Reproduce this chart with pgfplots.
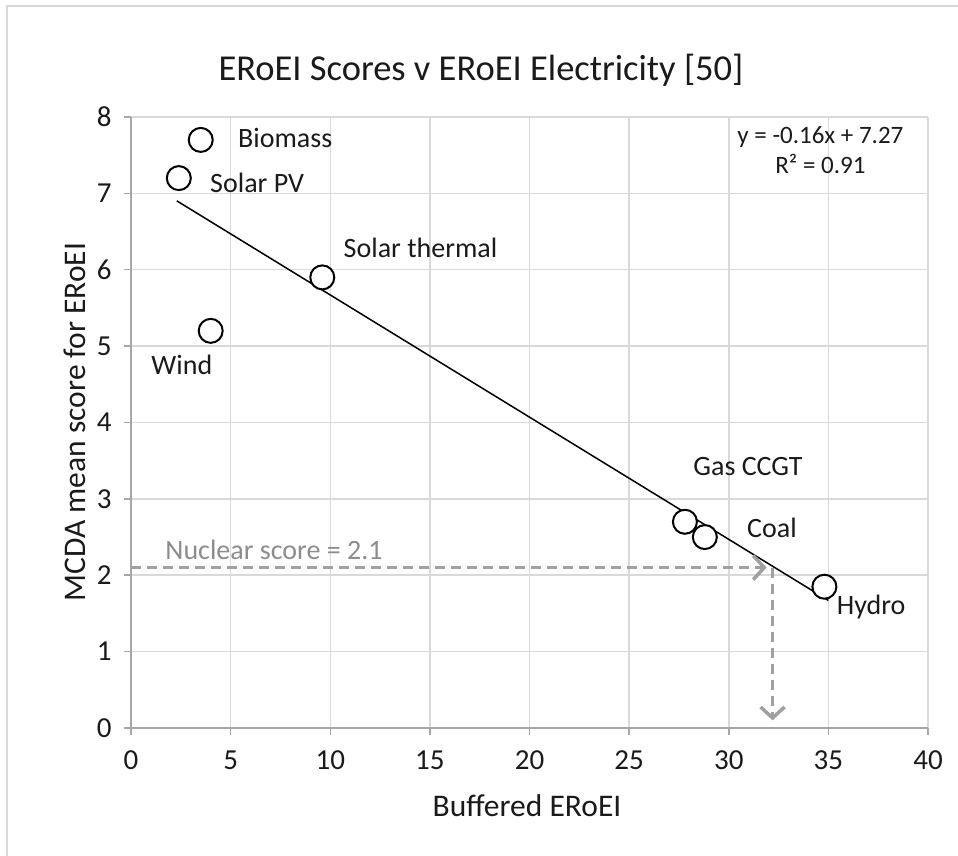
\documentclass[border=0pt]{standalone}
\usepackage{pgfplots}
\pgfplotsset{compat=1.18}
\usepackage{fontspec}
\setmainfont{Carlito}
\usetikzlibrary{arrows.meta,shadows}
\definecolor{gridc}{HTML}{D9D9D9}
\definecolor{axc}{HTML}{A6A6A6}
\definecolor{arrc}{HTML}{A0A0A0}
\definecolor{txtc}{HTML}{1A1A1A}
\definecolor{nucc}{HTML}{8C8C8C}
\begin{document}
\begin{tikzpicture}[x=1pt,y=1pt]
\path[use as bounding box] (-131,-128) rectangle (827,728);
\draw[gridc, line width=1.5pt] (-124,-128) -- (-124,722) -- (827,722);
\begin{axis}[
  at={(0,0)}, anchor=origin,
  scale only axis, width=797pt, height=611pt,
  xmin=0, xmax=40, ymin=0, ymax=8,
  xtick={0,5,...,40}, ytick={0,1,...,8},
  grid=major, major grid style={gridc, line width=1.5pt},
  axis x line*=bottom, axis y line*=left,
  axis line style={axc, line width=1.5pt, -},
  tick style={axc, line width=1.5pt},
  tick align=outside, major tick length=7pt,
  ticklabel style={font=\fontsize{29}{32}\selectfont, text=txtc},
  /pgf/number format/assume math mode=true,
  xticklabel style={yshift=-12pt},
  yticklabel style={xshift=-9pt},
  clip=false,
]
\addplot[black, line width=1.5pt] coordinates {(2.3,6.902) (35,1.67)};
\addplot[arrc, line width=2.8pt, dash pattern=on 10pt off 6pt, -{Straight Barb[length=11pt,width=24pt,line width=3.5pt]}] coordinates {(0,2.1) (31.9,2.1)};
\addplot[arrc, line width=2.8pt, dash pattern=on 10pt off 6pt, -{Straight Barb[length=11pt,width=24pt,line width=3.5pt]}] coordinates {(32.2,2.1) (32.2,0.1)};
\addplot[only marks, mark=*, mark size=12pt,
  mark options={draw=black, fill=white, line width=2pt,
  drop shadow={shadow xshift=-1.5pt, shadow yshift=-2.5pt, opacity=0.35, fill=black}}]
  coordinates {(3.5,7.7) (2.4,7.2) (9.6,5.9) (4.0,5.2) (27.8,2.7) (28.8,2.5) (34.8,1.85)};
\begin{scope}[every node/.style={font=\fontsize{28}{30}\selectfont, text=txtc, anchor=west}]
\node at (axis cs:5.2,7.72) {Biomass};
\node at (axis cs:3.8,7.14) {Solar PV};
\node at (axis cs:10.5,6.28) {Solar thermal};
\node at (axis cs:0.85,4.75) {Wind};
\node at (axis cs:28.05,3.43) {Gas CCGT};
\node at (axis cs:30.75,2.62) {Coal};
\node at (axis cs:35.25,1.58) {Hydro};
\node[text=nucc] at (axis cs:1.55,2.33) {Nuclear score = 2.1};
\end{scope}
\node[font=\fontsize{25}{30}\selectfont, text=txtc, align=center] at (axis cs:34.6,7.57) {y = -0.16x + 7.27\\R² = 0.91};
\end{axis}
\node[font=\fontsize{36.5}{40}\selectfont, text=txtc] at (350,658) {ERoEI Scores v ERoEI Electricity [50]};
\node[font=\fontsize{31.5}{34}\selectfont, text=txtc] at (396,-78) {Buffered ERoEI};
\node[font=\fontsize{31.5}{34}\selectfont, text=txtc, rotate=90] at (-56,306) {MCDA mean score for ERoEI};
\end{tikzpicture}
\end{document}
